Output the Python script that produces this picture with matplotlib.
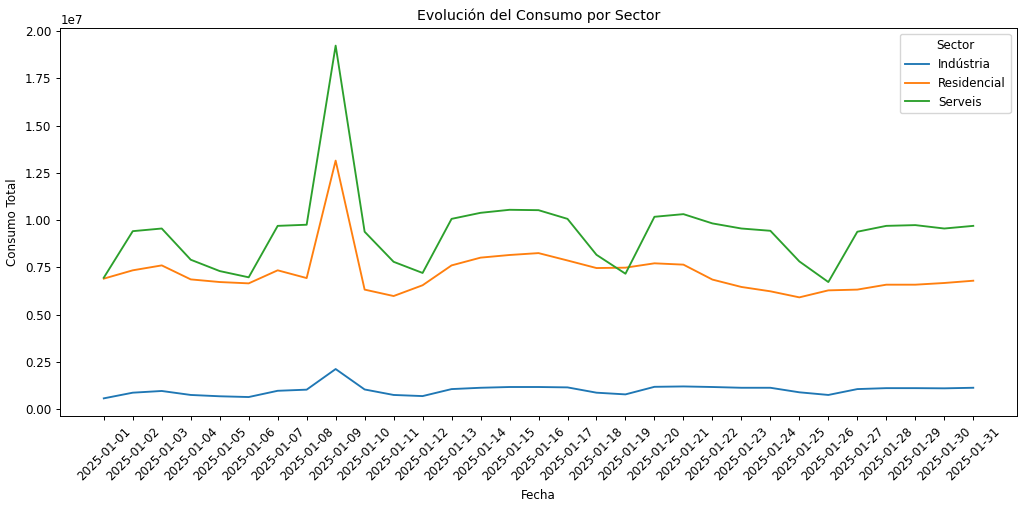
import numpy as np
import pandas as pd
import matplotlib.pyplot as plt

fechas = [f"2025-01-{d:02d}" for d in range(1, 32)]

# consumo en unidades de 1e7
industria = [0.058, 0.088, 0.097, 0.076, 0.069, 0.065, 0.098, 0.104, 0.213, 0.105,
             0.076, 0.070, 0.107, 0.114, 0.118, 0.118, 0.116, 0.088, 0.079, 0.119,
             0.121, 0.118, 0.114, 0.114, 0.090, 0.076, 0.107, 0.112, 0.112, 0.111,
             0.114]
residencial = [0.691, 0.735, 0.761, 0.687, 0.673, 0.666, 0.735, 0.694, 1.315, 0.633,
               0.599, 0.656, 0.761, 0.802, 0.816, 0.826, 0.787, 0.747, 0.749, 0.772,
               0.765, 0.686, 0.647, 0.624, 0.592, 0.629, 0.633, 0.659, 0.659, 0.668,
               0.680]
serveis = [0.696, 0.942, 0.956, 0.791, 0.731, 0.698, 0.970, 0.976, 1.923, 0.939,
           0.780, 0.721, 1.007, 1.039, 1.055, 1.053, 1.007, 0.817, 0.717, 1.018,
           1.032, 0.983, 0.956, 0.944, 0.782, 0.673, 0.939, 0.970, 0.974, 0.956,
           0.970]

df = pd.DataFrame({
    "Indústria": np.array(industria) * 1e7,
    "Residencial": np.array(residencial) * 1e7,
    "Serveis": np.array(serveis) * 1e7,
}, index=fechas)

plt.rcParams['font.size'] = 8.6
plt.rcParams['lines.linewidth'] = 1.35
plt.rcParams['axes.linewidth'] = 0.7
plt.rcParams['xtick.major.width'] = 0.7
plt.rcParams['ytick.major.width'] = 0.7
plt.rcParams['xtick.major.size'] = 3.0
plt.rcParams['ytick.major.size'] = 3.0

plt.figure(figsize=(10.24, 5.07), dpi=100)
for sector in df.columns:
    plt.plot(df.index, df[sector], label=sector)

plt.title("Evolución del Consumo por Sector", fontsize=10.2)
plt.xlabel("Fecha")
plt.ylabel("Consumo Total")
plt.xticks(rotation=45)
plt.legend(title="Sector")
plt.subplots_adjust(left=0.0589, right=0.9929, top=0.9448, bottom=0.1795)
plt.savefig("out.png", dpi=100)
plt.close()
